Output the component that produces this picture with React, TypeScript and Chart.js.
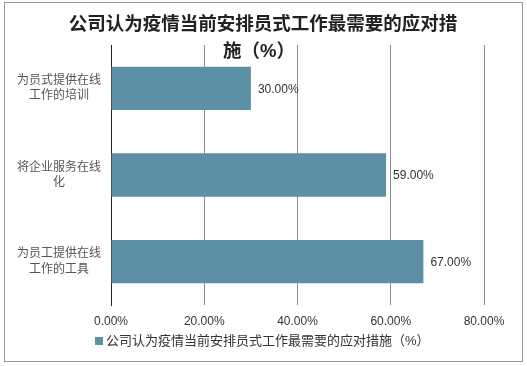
import React, { useEffect, useRef } from 'react';
import { Chart, registerables } from 'chart.js';

Chart.register(...registerables);

const categories: string[][] = [
  ['为员式提供在线', '工作的培训'],
  ['将企业服务在线', '化'],
  ['为员工提供在线', '工作的工具'],
];
const values: number[] = [30, 59, 67];
const xTickValues: number[] = [0, 20, 40, 60, 80];
const seriesName = '公司认为疫情当前安排员式工作最需要的应对措施（%）';
const titleLines: string[] = ['公司认为疫情当前安排员式工作最需要的应对措', '施（%）'];

const BAR_COLOR = '#5D90A6';
const FONT = '"Liberation Sans", "Noto Sans CJK SC", sans-serif';

const decorPlugin = {
  id: 'decor',
  beforeDraw(chart: any) {
    const ctx = chart.ctx;
    ctx.save();
    ctx.fillStyle = '#ffffff';
    ctx.fillRect(0, 0, chart.width, chart.height);
    ctx.strokeStyle = '#9a9a9a';
    ctx.lineWidth = 1;
    ctx.strokeRect(4.5, 2.5, 518, 359);
    ctx.restore();
  },
  afterDatasetsDraw(chart: any) {
    const ctx = chart.ctx;
    const meta = chart.getDatasetMeta(0);
    ctx.save();
    ctx.font = `12px ${FONT}`;
    ctx.fillStyle = '#333333';
    ctx.textAlign = 'left';
    ctx.textBaseline = 'middle';
    meta.data.forEach((bar: any, i: number) => {
      const v = chart.data.datasets[0].data[i] as number;
      ctx.fillText(v.toFixed(2) + '%', bar.x + 7, bar.y + 1);
    });
    ctx.restore();
  },
  afterDraw(chart: any) {
    const ctx = chart.ctx;
    ctx.save();
    // title
    ctx.font = `bold 18.5px ${FONT}`;
    ctx.fillStyle = '#222222';
    ctx.textAlign = 'center';
    ctx.textBaseline = 'middle';
    ctx.fillText(titleLines[0], 263, 25);
    ctx.fillText(titleLines[1], 259, 52);
    // legend
    ctx.fillStyle = BAR_COLOR;
    ctx.fillRect(95, 337, 8, 8);
    ctx.font = `13px ${FONT}`;
    ctx.fillStyle = '#333333';
    ctx.textAlign = 'left';
    ctx.fillText(chart.data.datasets[0].label, 106, 341);
    ctx.restore();
  },
};

export default function App() {
  const canvasRef = useRef<HTMLCanvasElement | null>(null);

  useEffect(() => {
    if (!canvasRef.current) return;
    const chart = new Chart(canvasRef.current, {
      type: 'bar',
      data: {
        labels: categories as any,
        datasets: [
          {
            label: seriesName,
            data: values,
            backgroundColor: BAR_COLOR,
            borderWidth: 0,
            categoryPercentage: 1,
            barPercentage: 0.5,
          },
        ],
      },
      options: {
        indexAxis: 'y',
        animation: false,
        responsive: false,
        devicePixelRatio: 1,
        layout: { padding: { left: 0, right: 43, top: 45, bottom: 0 } },
        plugins: {
          legend: { display: false },
          title: { display: false },
          tooltip: { enabled: false },
        },
        scales: {
          x: {
            min: 0,
            max: 80,
            afterFit: (scale: any) => {
              scale.height = 61;
            },
            afterBuildTicks: (scale: any) => {
              scale.ticks = xTickValues.map((v) => ({ value: v }));
            },
            grid: { color: '#8c8c8c', drawTicks: false, lineWidth: 1 },
            border: { display: false },
            ticks: {
              padding: 9,
              color: '#333333',
              font: { family: FONT, size: 12 },
              callback: (v: any) => Number(v).toFixed(2) + '%',
            },
          },
          y: {
            afterFit: (scale: any) => {
              scale.width = 111;
            },
            grid: { display: false, drawTicks: false },
            border: { display: true, color: '#222222', width: 1 },
            ticks: {
              padding: 10,
              crossAlign: 'center',
              color: '#555555',
              font: { family: FONT, size: 12, lineHeight: 1.3 },
            },
          },
        },
      },
      plugins: [decorPlugin],
    });
    return () => chart.destroy();
  }, []);

  return (
    <div style={{ position: 'absolute', left: 0, top: 0, width: 527, height: 366 }}>
      <canvas ref={canvasRef} width={527} height={366} />
    </div>
  );
}
